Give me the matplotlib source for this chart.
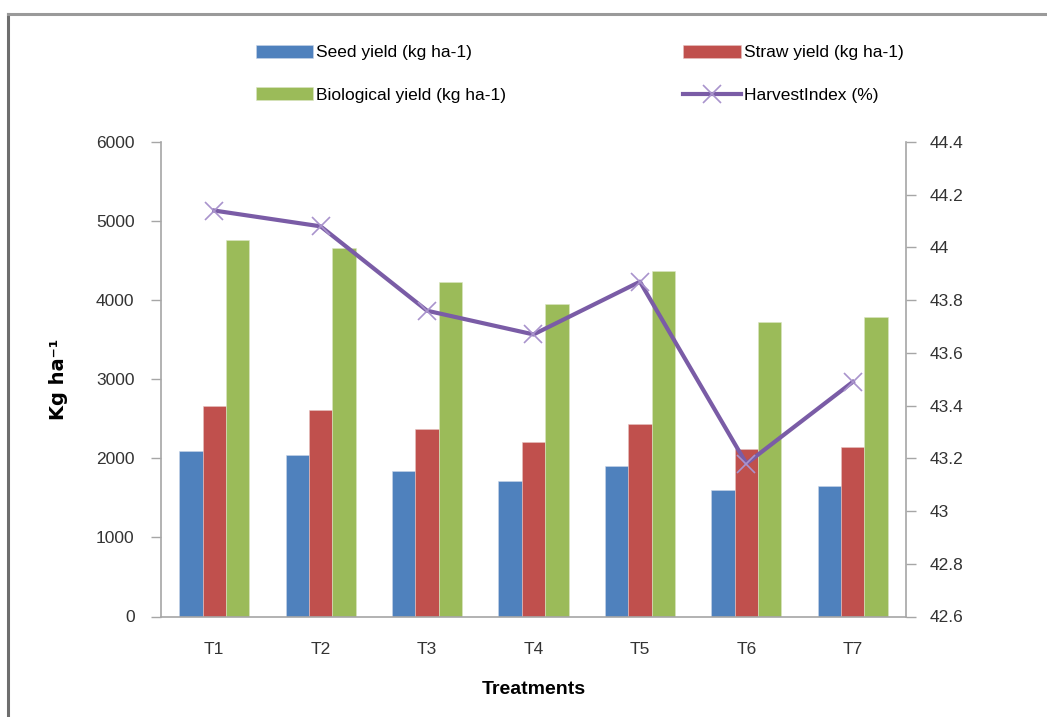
import matplotlib
matplotlib.use("Agg")
import matplotlib.pyplot as plt
from matplotlib.lines import Line2D
import numpy as np

treatments = ["T1", "T2", "T3", "T4", "T5", "T6", "T7"]
seed_yield = [2093, 2042, 1835, 1718, 1907, 1599, 1646]
straw_yield = [2658, 2608, 2367, 2206, 2434, 2114, 2139]
bio_yield = [4759, 4662, 4232, 3946, 4367, 3726, 3789]
harvest_index = [44.14, 44.08, 43.76, 43.67, 43.87, 43.18, 43.49]

left_ticks = [0, 1000, 2000, 3000, 4000, 5000, 6000]
right_ticks = [42.6, 42.8, 43.0, 43.2, 43.4, 43.6, 43.8, 44.0, 44.2, 44.4]
right_labels = ["42.6", "42.8", "43", "43.2", "43.4", "43.6", "43.8", "44", "44.2", "44.4"]

plt.rcParams['font.family'] = ['Liberation Sans Narrow', 'Liberation Sans', 'DejaVu Sans']

fig = plt.figure(figsize=(10.47, 7.17), dpi=100)
ax = fig.add_axes([161 / 1047, 1 - 616.5 / 717, 745 / 1047, 474.5 / 717])

x = np.arange(len(treatments))
w = 0.22
b1 = ax.bar(x - w, seed_yield, w, color="#4F81BD", edgecolor="#c9d6e8", linewidth=0.4, label="Seed yield (kg ha-1)")
b2 = ax.bar(x, straw_yield, w, color="#C0504D", edgecolor="#e6c2c1", linewidth=0.4, label="Straw yield (kg ha-1)")
b3 = ax.bar(x + w, bio_yield, w, color="#9BBB59", edgecolor="#dbe6c4", linewidth=0.4, label="Biological yield (kg ha-1)")

ax.set_xlim(-0.5, len(treatments) - 0.5)
ax.set_ylim(0, 6000)
ax.set_yticks(left_ticks)
ax.set_xticks(x)
ax.set_xticklabels(treatments)

axis_grey = "#a6a6a6"
text_grey = "#333333"
for side in ["top", "right"]:
    ax.spines[side].set_visible(False)
for side in ["left", "bottom"]:
    ax.spines[side].set_color(axis_grey)
    ax.spines[side].set_linewidth(1.2)
ax.tick_params(axis="y", direction="out", length=7, width=1, color=axis_grey,
               labelsize=12.5, labelcolor=text_grey, pad=12)
ax.tick_params(axis="x", length=0, labelsize=12.5, labelcolor=text_grey, pad=18)
ax.set_ylabel("Kg ha⁻¹", fontsize=14, fontweight="bold", labelpad=20,
              family="DejaVu Sans")
ax.set_xlabel("Treatments", fontsize=14, fontweight="bold", labelpad=18)

ax2 = ax.twinx()
ax2.set_ylim(42.6, 44.4)
ax2.set_yticks(right_ticks)
ax2.set_yticklabels(right_labels)
for side in ["top", "left", "bottom"]:
    ax2.spines[side].set_visible(False)
ax2.spines["right"].set_color(axis_grey)
ax2.spines["right"].set_linewidth(1.2)
ax2.tick_params(axis="y", direction="out", length=7, width=1, color=axis_grey,
                labelsize=12.5, labelcolor=text_grey, pad=10)
line, = ax2.plot(x, harvest_index, color="#7A5CA6", linewidth=3, marker="x",
                 markersize=13, markeredgewidth=1.2, markeredgecolor="#a993cc",
                 label="HarvestIndex (%)", zorder=5)

handles = [b1, b3, b2, line]
labels = [h.get_label() for h in handles]
fig.legend(handles, labels, ncol=2, loc="upper left",
           bbox_to_anchor=(240 / 1047, 1 - 29 / 717), frameon=False,
           fontsize=12.5, handlelength=3.3, handleheight=0.8, handletextpad=0.2,
           columnspacing=10.2, labelspacing=1.55, labelcolor="black")

# outer frame
fig.add_artist(Line2D([8 / 1047, 8 / 1047], [0, 1 - 14 / 717], color="#6e6e6e", linewidth=2.2))
fig.add_artist(Line2D([8 / 1047, 1], [1 - 14 / 717, 1 - 14 / 717], color="#9a9a9a", linewidth=2.2))

fig.savefig("out.png", dpi=100, facecolor="white")
